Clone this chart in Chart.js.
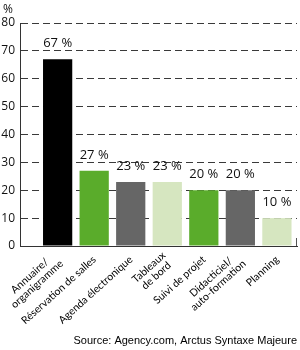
<!DOCTYPE html>
<html>
<head>
<meta charset="utf-8">
<script src="https://cdn.jsdelivr.net/npm/chart.js@4/dist/chart.umd.min.js"></script>
<style>
  html, body { margin: 0; padding: 0; background: #fff; }
  #wrap { width: 300px; height: 350px; }
</style>
</head>
<body>
<div id="wrap"><canvas id="c" width="300" height="350"></canvas></div>
<script>
const categories = [
  ['Annuaire/', 'organigramme'],
  'Réservation de salles',
  'Agenda électronique',
  ['Tableaux', 'de bord'],
  'Suivi de projet',
  ['Didacticiel/', 'auto-formation'],
  'Planning'
];
const values = [67, 27, 23, 23, 20, 20, 10];
const barColors = ['#000000', '#5aac2b', '#666666', '#d6e6c0', '#5aac2b', '#666666', '#d6e6c0'];
const yTicks = [0, 10, 20, 30, 40, 50, 60, 70, 80];
const unitLabel = '%';
const sourceText = 'Source: Agency.com, Arctus Syntaxe Majeure';

const TEXT = '#111';

const decorations = {
  id: 'decorations',
  afterDatasetsDraw(chart) {
    const ctx = chart.ctx;
    const meta = chart.getDatasetMeta(0);
    const area = chart.chartArea;
    const xs = chart.scales.x;

    // value labels above bars
    ctx.save();
    ctx.font = '13px "Open Sans"';
    ctx.fillStyle = TEXT;
    ctx.textAlign = 'center';
    ctx.textBaseline = 'alphabetic';
    meta.data.forEach((bar, i) => {
      ctx.fillText(values[i] + ' %', bar.x, bar.y - 12);
    });
    ctx.restore();

    // rotated category labels (lines centred within each label)
    const ang = -42 * Math.PI / 180;
    const lh = 11;
    const xh = 5.3;
    ctx.save();
    ctx.font = '10.5px Lato';
    ctx.fillStyle = '#000';
    ctx.textAlign = 'center';
    ctx.textBaseline = 'alphabetic';
    categories.forEach((c, i) => {
      const lines = Array.isArray(c) ? c : [c];
      const W = Math.max(...lines.map(l => ctx.measureText(l).width));
      const px = xs.getPixelForValue(i + 1) - 1;
      const py = area.bottom + 10.5;
      ctx.save();
      ctx.translate(px, py);
      ctx.rotate(ang);
      const shift = -(lines.length - 1) * lh / 2;
      lines.forEach((l, j) => {
        ctx.fillText(l, -W / 2, xh + shift + j * lh);
      });
      ctx.restore();
    });
    ctx.restore();

    // small closing tick at the right end of the x axis
    ctx.save();
    ctx.strokeStyle = '#555';
    ctx.lineWidth = 1;
    ctx.beginPath();
    ctx.moveTo(Math.round(area.right) - 0.5, area.bottom - 8);
    ctx.lineTo(Math.round(area.right) - 0.5, area.bottom);
    ctx.stroke();
    ctx.restore();

    // unit label and source
    ctx.save();
    ctx.fillStyle = TEXT;
    ctx.font = '12px "Open Sans"';
    ctx.textAlign = 'left';
    ctx.textBaseline = 'alphabetic';
    ctx.fillText(unitLabel, 3, 13);
    ctx.font = '11px "Liberation Sans"';
    ctx.fillStyle = '#000';
    ctx.textAlign = 'right';
    ctx.fillText(sourceText, 297, 344);
    ctx.restore();
  }
};

new Chart(document.getElementById('c'), {
  type: 'bar',
  data: {
    datasets: [{
      data: values.map((v, i) => ({ x: i + 1, y: v })),
      backgroundColor: barColors,
      borderWidth: 0,
      barPercentage: 0.8,
      categoryPercentage: 1
    }]
  },
  options: {
    responsive: false,
    animation: false,
    layout: { padding: { top: 23, right: 3, bottom: 0, left: 0 } },
    plugins: {
      legend: { display: false },
      tooltip: { enabled: false },
      title: { display: false }
    },
    scales: {
      x: {
        type: 'linear',
        min: -0.03,
        max: 7.55,
        offset: false,
        grid: { display: false, offset: false, drawTicks: false },
        border: { display: true, color: '#333', width: 1 },
        afterBuildTicks(scale) {
          scale.ticks = categories.map((c, i) => ({ value: i + 1 }));
        },
        afterFit(scale) { scale.height = 104; },
        ticks: { display: false }
      },
      y: {
        min: 0,
        max: 80,
        afterBuildTicks(scale) {
          scale.ticks = yTicks.map(v => ({ value: v }));
        },
        afterFit(scale) { scale.width = 20; },
        grid: { color: '#3a3a3a', drawTicks: false, lineWidth: 1 },
        border: { display: true, color: '#333', width: 1, dash: [7, 4] },
        ticks: {
          padding: 5,
          color: TEXT,
          font: { family: 'Open Sans', size: 12 }
        }
      }
    }
  },
  plugins: [decorations]
});
</script>
</body>
</html>
